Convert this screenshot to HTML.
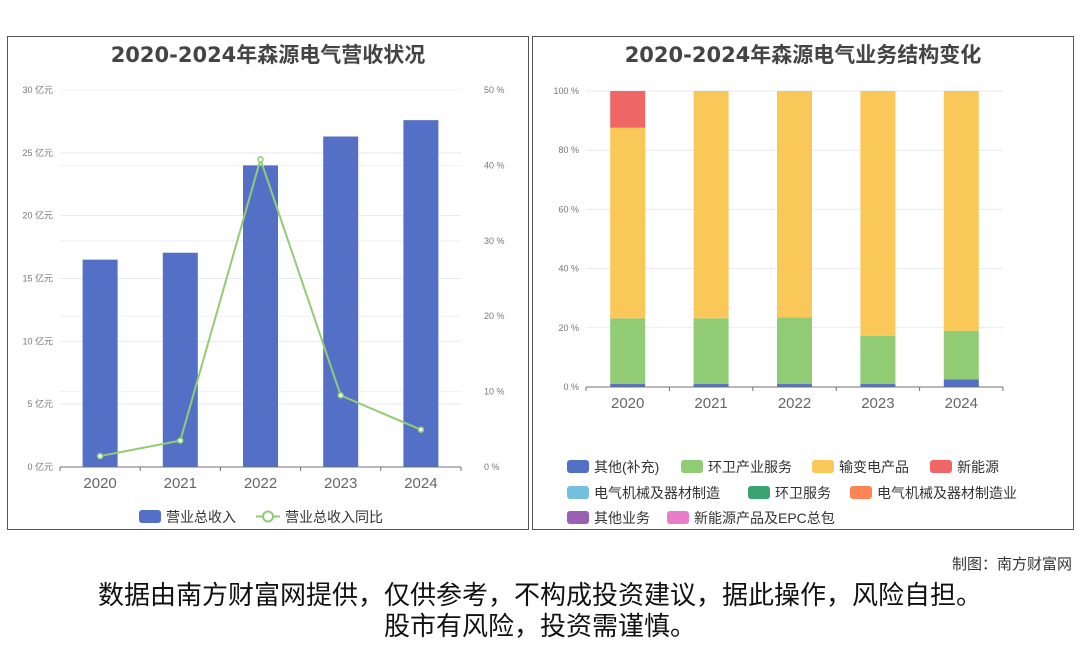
<!DOCTYPE html>
<html><head><meta charset="utf-8"><style>
body{margin:0;width:1080px;height:646px;background:#fff;font-family:"Liberation Sans","Noto Sans CJK SC",sans-serif;overflow:hidden;position:relative}
.panel{position:absolute;top:36px;height:494px;border:1px solid #555;box-sizing:border-box}
.title{position:absolute;top:2px;left:0;right:0;text-align:center;font-weight:bold;font-size:21px;color:#444;font-family:"DejaVu Sans","Noto Sans CJK SC",sans-serif}
svg text{font-family:"Liberation Sans","Noto Sans CJK SC",sans-serif}
</style></head><body>
<div class="panel" style="left:7px;width:522px">
<div class="title">2020-2024年森源电气营收状况</div></div>
<div class="panel" style="left:532px;width:542px">
<div class="title">2020-2024年森源电气业务结构变化</div></div>
<svg id="c" width="1080" height="646" style="position:absolute;left:0;top:0"></svg>
<div style="position:absolute;right:8px;top:553px;font-size:15px;color:#333">制图：南方财富网</div>
<div style="position:absolute;left:0;right:0;top:580px;text-align:center;font-size:26px;line-height:31px;color:#111">数据由南方财富网提供，仅供参考，不构成投资建议，据此操作，风险自担。<br>股市有风险，投资需谨慎。</div>
<script>
const years=["2020","2021","2022","2023","2024"];
const revenue=[16.5,17.05,24.0,26.3,27.6];
const growth=[1.45,3.5,40.8,9.5,4.95];
const revTicks=[0,5,10,15,20,25,30];
const pctTicks=[0,10,20,30,40,50];
const segNames=["其他(补充)","环卫产业服务","输变电产品","新能源","电气机械及器材制造","环卫服务","电气机械及器材制造业","其他业务","新能源产品及EPC总包"];
const segColors=["#5470c6","#91cc75","#fac858","#ee6666","#73c0de","#3ba272","#fc8452","#9a60b4","#ea7ccc"];
const segOther=[1.0,1.0,1.0,1.0,2.6];
const segSanit=[22.2,22.2,22.5,16.3,16.4];
const segTrans=[64.4,76.8,76.5,82.7,81.0];
const segNewEn=[12.4,0,0,0,0];
const structTicks=[0,20,40,60,80,100];
const svg=document.getElementById('c');const NS='http://www.w3.org/2000/svg';
function mk(t,a,p){const e=document.createElementNS(NS,t);for(const k in a)e.setAttribute(k,a[k]);(p||svg).appendChild(e);return e;}
const L={x0:60,x1:461,y0:467,y1:90};
const yR=v=>L.y0-(v/30)*(L.y0-L.y1), yP=v=>L.y0-(v/50)*(L.y0-L.y1);
const bw=(L.x1-L.x0)/years.length, xc=i=>L.x0+bw*(i+0.5);
revTicks.forEach(t=>{const y=yR(t);if(t>0){const g=mk('line',{x1:L.x0,x2:L.x1,y1:y,y2:y,stroke:'#e6e9f2'});}
const tx=mk('text',{x:53,y:y+3,'text-anchor':'end','font-size':9,fill:'#777'});tx.textContent=t+' 亿元';});
pctTicks.forEach(t=>{const y=yP(t);if(t>0){const g=mk('line',{x1:L.x0,x2:L.x1,y1:y,y2:y,stroke:'#eef0f6'});}
const tx=mk('text',{x:484,y:y+3,'font-size':9,fill:'#777'});tx.textContent=t+' %';});
revenue.forEach((v,i)=>{const r=mk('rect',{x:xc(i)-17.5,y:yR(v),width:35,height:L.y0-yR(v),fill:'#5470c6'});});
mk('line',{x1:L.x0,x2:L.x1,y1:L.y0,y2:L.y0,stroke:'#6e7079'});
years.forEach((y,i)=>{mk('line',{x1:L.x0+bw*i,x2:L.x0+bw*i,y1:L.y0,y2:L.y0+4,stroke:'#6e7079'});
const t=mk('text',{x:xc(i),y:488,'text-anchor':'middle','font-size':15,fill:'#666'});t.textContent=y;});
mk('line',{x1:L.x1,x2:L.x1,y1:L.y0,y2:L.y0+4,stroke:'#6e7079'});
const ln=mk('polyline',{points:growth.map((v,i)=>xc(i)+','+yP(v)).join(' '),fill:'none',stroke:'#91cc75','stroke-width':2});

growth.forEach((v,i)=>{const c=mk('circle',{cx:xc(i),cy:yP(v),r:2.5,fill:'#fff',stroke:'#91cc75','stroke-width':1.5});});
const lg1=mk('rect',{x:139,y:510,width:22,height:13,rx:3,fill:'#5470c6'});
let t1=mk('text',{x:166,y:522,'font-size':14,fill:'#333'});t1.textContent='营业总收入';
mk('line',{x1:256,x2:280,y1:516.5,y2:516.5,stroke:'#91cc75','stroke-width':2});
const lg2=mk('circle',{cx:268,cy:516.5,r:5,fill:'#fff',stroke:'#91cc75','stroke-width':2});
let t2=mk('text',{x:285,y:522,'font-size':14,fill:'#333'});t2.textContent='营业总收入同比';
const R={x0:586,x1:1003,y0:387,y1:91};
const yS=v=>R.y0-(v/100)*(R.y0-R.y1);
const bw2=(R.x1-R.x0)/years.length, xc2=i=>R.x0+bw2*(i+0.5);
structTicks.forEach(t=>{const y=yS(t);if(t>0){const g=mk('line',{x1:R.x0,x2:R.x1,y1:y,y2:y,stroke:'#e6e9f2'});}
const tx=mk('text',{x:579,y:y+3,'text-anchor':'end','font-size':9,fill:'#777'});tx.textContent=t+' %';});
const series=[segOther,segSanit,segTrans,segNewEn];
years.forEach((y,i)=>{let acc=0;series.forEach((s,k)=>{const v=s[i];if(v<=0)return;const r=mk('rect',{x:xc2(i)-17.5,y:yS(acc+v),width:35,height:yS(acc)-yS(acc+v),fill:segColors[k]});acc+=v;});});
mk('line',{x1:R.x0,x2:R.x1,y1:R.y0,y2:R.y0,stroke:'#6e7079'});
years.forEach((y,i)=>{mk('line',{x1:R.x0+bw2*i,x2:R.x0+bw2*i,y1:R.y0,y2:R.y0+4,stroke:'#6e7079'});
const t=mk('text',{x:xc2(i),y:408,'text-anchor':'middle','font-size':15,fill:'#666'});t.textContent=y;});
mk('line',{x1:R.x1,x2:R.x1,y1:R.y0,y2:R.y0+4,stroke:'#6e7079'});
const legPos=[[567,466],[681,466],[812,466],[930,466],[567,492],[748,492],[850,492],[567,517],[667,517]];
segNames.forEach((n,k)=>{const [x,y]=legPos[k];const r=mk('rect',{x:x,y:y-6,width:22,height:13,rx:3,fill:segColors[k]});
const t=mk('text',{x:x+27,y:y+6,'font-size':14,fill:'#333'});t.textContent=n;});
</script>
</body></html>
